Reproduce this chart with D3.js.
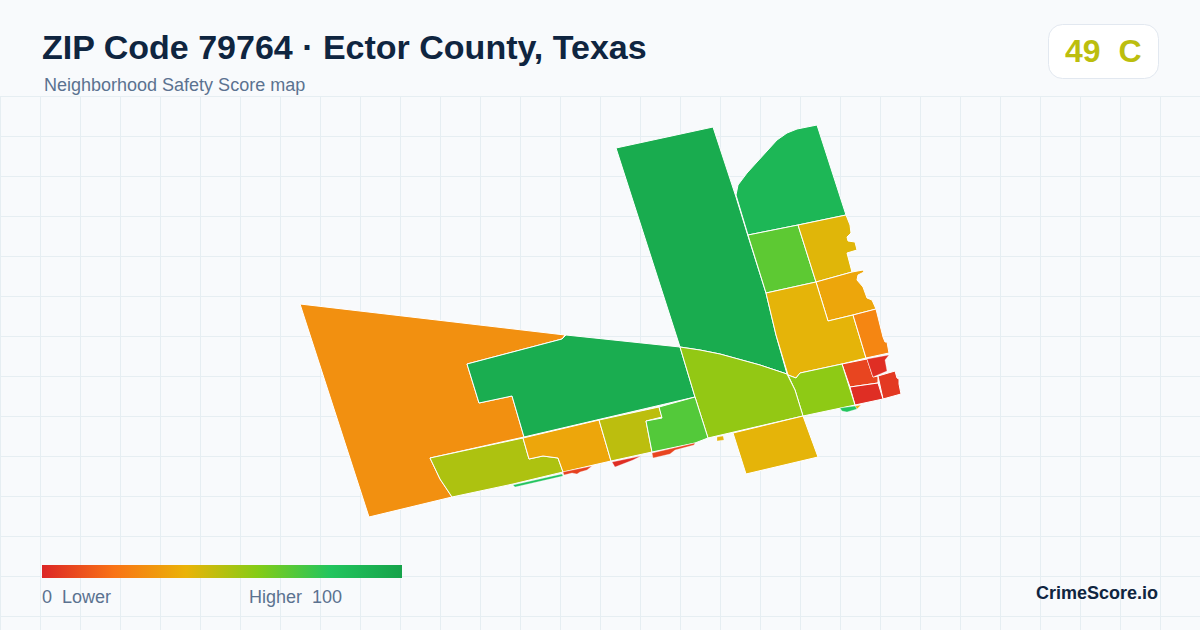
<!DOCTYPE html>
<html>
<head>
<meta charset="utf-8">
<title>ZIP Code 79764</title>
<script src="https://cdn.jsdelivr.net/npm/d3@7"></script>
<style>
    html, body { margin: 0; padding: 0; background: #f8fafc; }
    svg { display: block; }
    text { font-family: "Liberation Sans", Arial, sans-serif; white-space: pre; }
</style>
</head>
<body>
<svg id="chart" width="1200" height="630"></svg>
<script>
// Score of each area
const areaNames = ["west", "center", "north", "northeast", "lime_n", "east_1", "east_2", "mid_e", "east_3",
    "red_1", "red_2", "red_3", "red_4", "lime_e", "lime_c", "south", "stub_1", "stub_2", "olive_w", "amber_s", "olive_s", "lime_s",
    "sliver_1", "sliver_2", "sliver_3", "sliver_4", "sliver_5"];
const areaScores = [29, 94, 95, 88, 68, 42, 36, 41, 26,
    8, 2, 5, 2, 58, 57, 41, 41, 38, 52, 36, 49, 70,
    81, 7, 2, 8, 80];

// Outlines, in map units
const west = [[300,304],[565,335],[562,339],[467,364],[479,403],[512,396],[524,437],[430,458],[440,479],[452,497],[369,517]];
const center = [[467,364],[562,339],[566,335],[680,347],[695,397],[524,437],[512,396],[479,403]];
const north = [[616,148],[713,127],[736,197],[748,236],[766,293],[776,335],[787,374],[760,365],[720,354],[700,350],[680,347]];
const northeast = [[817,125],[846,215],[798,225],[748,235],[736,195],[738,185],[747,173],[777,140],[787,133],[797,129]];
const lime_n = [[748,235],[798,225],[816,282],[766,293]];
const east_1 = [[798,225],[846,215],[850,225],[851,233],[847,237],[848,241],[855,242],[857,250],[847,253],[852,272],[816,282]];
const east_2 = [[816,282],[852,272],[863,270],[864,272],[858,275],[857,280],[863,287],[867,298],[872,300],[876,309],[853,315],[828,321]];
const mid_e = [[766,293],[816,282],[828,321],[853,315],[866,358],[842,364],[800,373],[796,378],[788,375],[776,335]];
const east_3 = [[853,315],[876,309],[883,337],[885,342],[887,342],[889,353],[866,358]];
const red_1 = [[842,364],[867,359],[873,377],[878,376],[878,383],[850,387]];
const red_2 = [[867,359],[889,355],[885,360],[887,371],[873,377]];
const red_3 = [[878,376],[895,371],[897,378],[899,379],[899,384],[901,394],[883,399]];
const red_4 = [[850,387],[878,383],[883,399],[855,405]];
const lime_e = [[788,375],[796,378],[800,373],[842,364],[855,405],[803,416],[795,390]];
const lime_c = [[680,347],[700,350],[720,354],[760,365],[787,374],[795,390],[803,416],[708,438],[695,397]];
const south = [[733,433],[803,416],[818,457],[746,474]];
const stub_1 = [[717,437],[723,436],[724,440],[717,441]];
const stub_2 = [[855,406],[861,405],[857,409]];
const olive_w = [[430,458],[523,438],[529,459],[543,456],[558,458],[563,472],[513,484],[452,497],[440,479]];
const amber_s = [[523,438],[599,420],[611,461],[563,472],[558,458],[543,456],[529,459]];
const olive_s = [[599,420],[659,407],[662,417],[646,421],[652,452],[611,461]];
const lime_s = [[659,407],[695,397],[708,438],[695,443],[652,452],[646,421],[662,418]];
const sliver_1 = [[513,485],[562,474],[563,476],[515,487]];
const sliver_2 = [[563,472],[592,466],[587,470],[580,472],[577,474],[572,473],[564,475]];
const sliver_3 = [[612,462],[641,456],[633,460],[615,467]];
const sliver_4 = [[652,453],[695,443],[694,445],[675,450],[670,454],[653,458]];
const sliver_5 = [[840,408],[855,406],[857,409],[847,412],[842,411]];
const areaRings = [west, center, north, northeast, lime_n, east_1, east_2, mid_e, east_3,
    red_1, red_2, red_3, red_4, lime_e, lime_c, south, stub_1, stub_2, olive_w, amber_s, olive_s, lime_s,
    sliver_1, sliver_2, sliver_3, sliver_4, sliver_5];

// Score colour ramp
const rampStops = [0, 20, 40, 60, 80, 100];
const rampColors = ["#dc2626", "#f97316", "#eab308", "#84cc16", "#22c55e", "#16a34a"];

const titleText = "ZIP Code 79764 · Ector County, Texas";
const subtitleText = "Neighborhood Safety Score map";
const overallScore = 49;
const overallGrade = "C";

const width = 1200, height = 630;
const svg = d3.select("#chart");
const color = d3.scaleLinear().domain(rampStops).range(rampColors);

svg.append("rect").attr("width", width).attr("height", height).attr("fill", "#f8fafc");

// Grid
const grid = svg.append("g").attr("stroke", "#e6eef2").attr("stroke-width", 1);
d3.range(0.5, width, 40).forEach(x => {
    grid.append("line").attr("x1", x).attr("x2", x).attr("y1", 96).attr("y2", height);
});
d3.range(96.5, height, 40).forEach(y => {
    grid.append("line").attr("x1", 0).attr("x2", width).attr("y1", y).attr("y2", y);
});

// Map (geoPath wants closed rings)
const path = d3.geoPath(d3.geoIdentity());
svg.append("g")
    .selectAll("path")
    .data(areaRings.map((ring, i) => ({
        type: "Feature",
        properties: { name: areaNames[i], score: areaScores[i] },
        geometry: { type: "Polygon", coordinates: [ring.concat([ring[0]])] }
    })))
    .enter().append("path")
    .attr("d", path)
    .attr("fill", d => color(d.properties.score))
    .attr("stroke", "#ffffff")
    // thin slivers would vanish under a full outline
    .attr("stroke-width", d => path.area(d) < 300 ? 0.3 : 1)
    .attr("stroke-linejoin", "round");

// Header
svg.append("text").attr("x", 42).attr("y", 59)
    .attr("font-size", 34).attr("font-weight", 700).attr("fill", "#0f2540")
    .text(titleText);
svg.append("text").attr("x", 44).attr("y", 91)
    .attr("font-size", 18).attr("fill", "#5b7290")
    .text(subtitleText);

// Grade badge
svg.append("rect").attr("x", 1048.5).attr("y", 24.5).attr("width", 110).attr("height", 54).attr("rx", 14)
    .attr("fill", "#ffffff").attr("stroke", "#e2e8f0");
svg.append("text").attr("x", 1065).attr("y", 62)
    .attr("font-size", 32).attr("font-weight", 700).attr("fill", color(overallScore))
    .text(`${overallScore}  ${overallGrade}`);

// Legend
const legendX = d3.scaleLinear().domain([0, 100]).range([42, 402]);
const gradient = svg.append("defs").append("linearGradient").attr("id", "ramp");
rampStops.forEach((s, i) => {
    gradient.append("stop").attr("offset", `${s}%`).attr("stop-color", rampColors[i]);
});
svg.append("rect").attr("x", legendX(0)).attr("y", 565)
    .attr("width", legendX(100) - legendX(0)).attr("height", 13)
    .attr("fill", "url(#ramp)");
svg.append("text").attr("x", 42).attr("y", 603)
    .attr("font-size", 18).attr("fill", "#5b7290").text("0  Lower");
svg.append("text").attr("x", 249).attr("y", 603)
    .attr("font-size", 18).attr("fill", "#5b7290").text("Higher  100");
svg.append("text").attr("x", 1158).attr("y", 599).attr("text-anchor", "end")
    .attr("font-size", 18).attr("font-weight", 700).attr("fill", "#0f2540").text("CrimeScore.io");
</script>
</body>
</html>
